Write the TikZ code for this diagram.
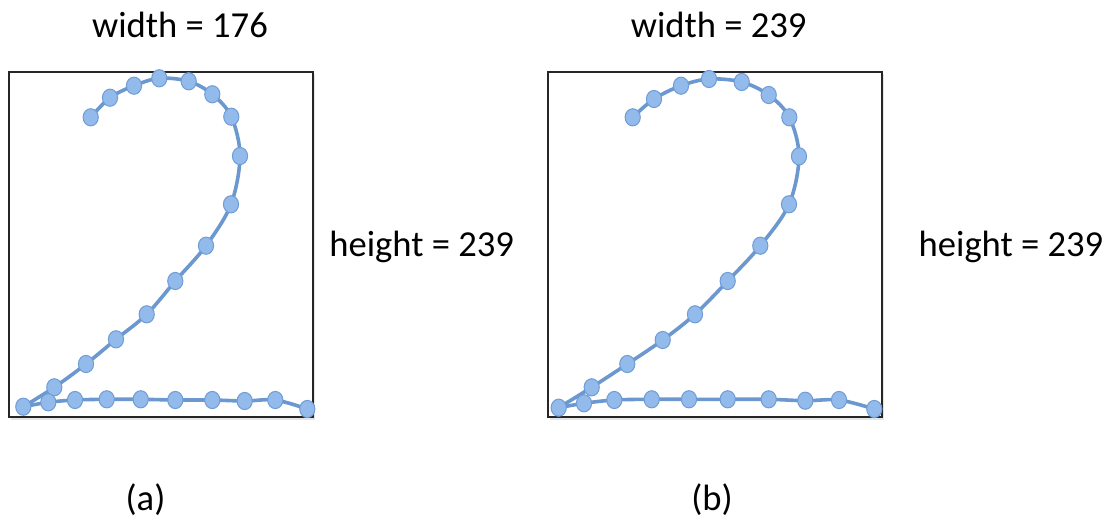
\documentclass[tikz,border=0pt]{standalone}
\usepackage{fontspec}
\setmainfont{Carlito}
\usetikzlibrary{positioning, shapes.geometric}

\definecolor{strokeblue}{RGB}{108,152,208}
\definecolor{dotfill}{RGB}{146,186,234}
\definecolor{dotdraw}{RGB}{112,156,214}

\begin{document}
\begin{tikzpicture}[
    x=0.5pt, y=-0.5pt,
    framebox/.style={draw=black!85, line width=0.8pt},
    shadowbox/.style={fill=black!10},
    strokeline/.style={draw=strokeblue, line width=1.8pt, line cap=round, line join=round},
    dotnode/.style={ellipse, draw=dotdraw, fill=dotfill, line width=0.5pt, minimum width=7.6pt, minimum height=8.6pt, inner sep=0pt},
    labeltext/.style={font=\fontsize{18.3}{22}\selectfont, anchor=base},
]

\useasboundingbox (0,0) rectangle (1110,520);

% Frames with a light shadow
\fill[shadowbox] (11,74) rectangle (315,420);
\fill[shadowbox] (550,74) rectangle (884,420);
\draw[framebox, fill=white] (9,72) rectangle (313,417);
\draw[framebox, fill=white] (548,72) rectangle (882,417);

% Panel (a): sample points of the digit
\foreach \px/\py [count=\i] in {90.7/117.3, 110/97.7, 134/85.7, 159.3/78.3, 188.7/81.3, 212.3/94.3, 231.3/116.7, 240/156, 231/204.3, 206/245.7, 175.3/281, 146.7/314.3, 116/339.3, 86/364, 54.3/387.3, 23.3/406.7}
    \coordinate (at\i) at (\px,\py);
\foreach \px/\py [count=\i] in {48.3/402.3, 75/400, 106.7/399.3, 140.7/399.3, 175.3/400, 212.3/400, 244.7/401, 275.3/400, 307.3/409}
    \coordinate (ab\i) at (\px,\py);

% Panel (b): same digit, stretched
\foreach \px/\py [count=\i] in {632.7/117.3, 654/99, 681/85.7, 709/79, 741.7/82, 768.7/95, 789.3/117.3, 799/156.3, 789/204.3, 760.3/245.7, 727.7/281, 695/314.3, 662.7/340, 627.3/364, 591.7/387.3, 558.7/407.7}
    \coordinate (bt\i) at (\px,\py);
\foreach \px/\py [count=\i] in {584/403.3, 614.3/400, 651.7/399.3, 689/399.3, 727.7/399.3, 768.7/399.3, 805.3/400.7, 839/400, 874.3/409}
    \coordinate (bb\i) at (\px,\py);

% Strokes
\draw[strokeline] plot[smooth, tension=0.55] coordinates {(at1) (at2) (at3) (at4) (at5) (at6) (at7) (at8) (at9) (at10) (at11) (at12) (at13) (at14) (at15) (at16)};
\draw[strokeline] plot[smooth, tension=0.55] coordinates {(at16) (ab1) (ab2) (ab3) (ab4) (ab5) (ab6) (ab7) (ab8) (ab9)};
\draw[strokeline] plot[smooth, tension=0.55] coordinates {(bt1) (bt2) (bt3) (bt4) (bt5) (bt6) (bt7) (bt8) (bt9) (bt10) (bt11) (bt12) (bt13) (bt14) (bt15) (bt16)};
\draw[strokeline] plot[smooth, tension=0.55] coordinates {(bt16) (bb1) (bb2) (bb3) (bb4) (bb5) (bb6) (bb7) (bb8) (bb9)};

% Dots on top
\foreach \i in {1,...,16} {
    \node[dotnode] (dot-at\i) at (at\i) {};
    \node[dotnode] (dot-bt\i) at (bt\i) {};
}
\foreach \i in {1,...,9} {
    \node[dotnode] (dot-ab\i) at (ab\i) {};
    \node[dotnode] (dot-bb\i) at (bb\i) {};
}

% Labels
\node[labeltext] (widtha) at (180,37.5) {width = 176};
\node[labeltext] (widthb) at (718.7,37.5) {width = 239};
\node[labeltext] (heighta) at (421.7,256) {height = 239};
\node[labeltext] (heightb) at (1011,256) {height = 239};
\node[labeltext] (capa) at (145.5,510) {(a)};
\node[labeltext] (capb) at (712,510) {(b)};

\end{tikzpicture}
\end{document}
